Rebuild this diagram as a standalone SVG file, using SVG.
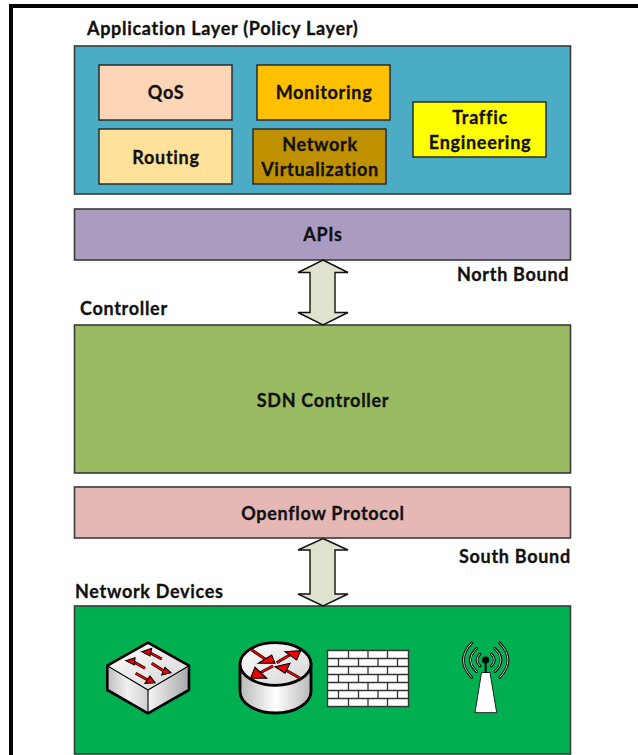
<svg xmlns="http://www.w3.org/2000/svg" width="638" height="755" viewBox="0 0 638 755">
<style>
text{font-family:Lato,Carlito,"Liberation Sans",sans-serif;font-weight:700;font-size:18px;fill:#111;stroke:#111;stroke-width:.3;letter-spacing:.7px}
.m{text-anchor:middle}
.b{stroke:#222;stroke-width:1.4}
.o{stroke:#3a3a3a;stroke-width:1.6}
.dk{stroke:#000;stroke-linejoin:round;fill:none}
.red{fill:#f00000;stroke:#000;stroke-width:1.1;stroke-linejoin:miter}
.sh1{stroke:#000;stroke-width:3;fill:none}
.sh2{stroke:#f00000;stroke-width:1.6;fill:none}
.br{fill:none;stroke:#333;stroke-width:1.3}
.w1{fill:none;stroke:#000;stroke-width:2.6;stroke-linecap:round}
.w2{fill:none;stroke:#ddd;stroke-width:.9;stroke-linecap:round}
</style>
<defs>
<linearGradient id="gt" x1="0" y1="0" x2="1" y2="1"><stop offset="0" stop-color="#fff"/><stop offset="1" stop-color="#d4d4d4"/></linearGradient>
<linearGradient id="gl" x1="0" y1="0" x2="1" y2="0"><stop offset="0" stop-color="#bdbdbd"/><stop offset=".5" stop-color="#f2f2f2"/><stop offset="1" stop-color="#cfcfcf"/></linearGradient>
<linearGradient id="gr" x1="0" y1="0" x2="1" y2="0"><stop offset="0" stop-color="#f5f5f5"/><stop offset="1" stop-color="#a8a8a8"/></linearGradient>
<linearGradient id="gc" x1="0" y1="0" x2="1" y2="0"><stop offset="0" stop-color="#b8b8b8"/><stop offset=".5" stop-color="#fff"/><stop offset="1" stop-color="#b8b8b8"/></linearGradient>
</defs>
<rect width="638" height="755" fill="#fff"/>
<g id="frame"><rect x="9" y="4" width="629" height="4" fill="#000"/><rect x="9" y="4" width="4" height="751" fill="#000"/></g>

<g id="application-layer">
<text x="87" y="35">Application Layer (Policy Layer)</text>
<rect class="o" x="74.500" y="46" width="496" height="148" fill="#4bacc6"/>
</g>
<g id="qos"><rect class="b" x="99" y="65" width="133" height="55" fill="#fbd5b5"/><text class="m" x="166" y="99">QoS</text></g>
<g id="routing"><rect class="b" x="99" y="129" width="133" height="55" fill="#ffe199"/><text class="m" x="166" y="164">Routing</text></g>
<g id="monitoring"><rect class="b" x="257" y="65" width="133" height="55" fill="#ffc000"/><text class="m" x="324" y="99">Monitoring</text></g>
<g id="network-virtualization"><rect class="b" x="253" y="129" width="133" height="55" fill="#bf9000"/><text class="m" x="320" y="151">Network</text><text class="m" x="320" y="176">Virtualization</text></g>
<g id="traffic-engineering"><rect class="b" x="413" y="102" width="133" height="55" fill="#ff0"/><text class="m" x="480" y="124">Traffic</text><text class="m" x="480" y="149">Engineering</text></g>

<g id="apis"><rect class="o" x="74.500" y="209" width="496" height="51" fill="#aa9bc0"/><text class="m" x="323" y="241">APIs</text></g>
<g id="north-bound"><text x="457" y="281">North Bound</text></g>
<g id="controller-label"><text x="80" y="315">Controller</text></g>
<g id="sdn-controller"><rect class="o" x="74.500" y="325" width="496" height="148" fill="#9bbb63"/><text class="m" x="323" y="407">SDN Controller</text></g>
<g id="openflow"><rect class="o" x="74.500" y="487" width="496" height="51" fill="#e6b8b5"/><text class="m" x="323" y="520">Openflow Protocol</text></g>
<g id="south-bound"><text x="459" y="563">South Bound</text></g>
<g id="network-devices">
<text x="75" y="598">Network Devices</text>
<rect class="o" x="74.500" y="606" width="496" height="148" fill="#00b050"/>
</g>

<g id="connectors" fill="#dde3cc" stroke="#111" stroke-width="1.400" stroke-linejoin="miter">
<path d="M323 260L348 272.500H335V312.500H348L323 325L298 312.500H310V272.500H298Z"/>
<path d="M323 538.500L348 550H335V594H348L323 606L298 594H310V550H298Z"/>
</g>

<g id="switch">
<path d="M107.300 665.700L148 690V713.300L107.300 690Z" fill="url(#gl)"/>
<path d="M148 690L189 665.700V690L148 713.300Z" fill="url(#gr)"/>
<path d="M148 642.700L189 665.700L148 690L107.300 665.700Z" fill="url(#gt)"/>
<path class="dk" stroke-width="2.600" d="M148 642.700L189 665.700V690L148 713.300L107.300 690V665.700Z"/>
<path class="dk" stroke-width="1.100" d="M107.300 665.700L148 690L189 665.700M148 690V713.300"/>
<path class="sh1" d="M161.700 659L148 651.700M145 668.300L131.700 660.700M151.700 663.300L165 671.700M135.700 673.300L149 680.700"/>
<path class="sh2" d="M161.700 659L148 651.700M145 668.300L131.700 660.700M151.700 663.300L165 671.700M135.700 673.300L149 680.700"/>
<path class="red" d="M141.700 651.700L151.700 648.300L150 656Z"/>
<path class="red" d="M125.700 660.700L135 657.700L134.300 665Z"/>
<path class="red" d="M171 672.700L165 667.300L161.700 675Z"/>
<path class="red" d="M155 682.700L150 676L145 683.300Z"/>
</g>

<g id="router">
<path d="M240 664V691.500A35.500 21.500 0 0 0 311 691.500V664Z" fill="url(#gc)" stroke="#000" stroke-width="2.800"/>
<ellipse cx="275.500" cy="664" rx="35.500" ry="21.300" fill="url(#gt)" stroke="#000" stroke-width="2.800"/>
<path class="sh1" d="M251.700 650L268 661M276.700 662.700L293 653M300 678.300L281 667.300M273 666L256 675"/>
<path class="sh2" d="M251.700 650L268 661M276.700 662.700L293 653M300 678.300L281 667.300M273 666L256 675"/>
<path class="red" d="M258.300 663.300L275 663.300L271.700 655Z"/>
<path class="red" d="M285 651.700L300.700 650.700L296.700 660Z"/>
<path class="red" d="M275 666.700L290 663.300L285 673.300Z"/>
<path class="red" d="M250.700 678.300L266.700 678.300L255 667.300Z"/>
</g>

<g id="firewall">
<rect x="327.500" y="650.500" width="81" height="56" fill="#fff" stroke="#333" stroke-width="1.400"/>
<path class="br" d="M328 658.500H408M328 666.500H408M328 674.500H408M328 682.500H408M328 690.500H408M328 698.500H408"/>
<path class="br" d="M348.500 650V658M368 650V658M387.500 650V658M338.500 658V666M358.500 658V666M378 658V666M397.500 658V666M348.500 666V674M368 666V674M387.500 666V674M338.500 674V682M358.500 674V682M378 674V682M397.500 674V682M348.500 682V690M368 682V690M387.500 682V690M338.500 690V698M358.500 690V698M378 690V698M397.500 690V698M348.500 698V706M368 698V706M387.500 698V706"/>
</g>

<g id="antenna">
<path d="M481.500 672.500H490L496.700 712.700H475Z" fill="#fff" stroke="#222" stroke-width="1"/>
<path d="M485.700 660V673" stroke="#000" stroke-width="2"/>
<circle cx="485.700" cy="660" r="3.600" fill="#000"/>
<path class="w1" d="M471.700 643Q455 660 471.700 677.500M476.500 648.500Q464 660 476.500 671.700M480 654Q474 660 480 666M499.700 643Q516.400 660 499.700 677.500M494.900 648.500Q507.400 660 494.900 671.700M491.400 654Q497.400 660 491.400 666"/>
<path class="w2" d="M471.700 643Q455 660 471.700 677.500M476.500 648.500Q464 660 476.500 671.700M480 654Q474 660 480 666M499.700 643Q516.400 660 499.700 677.500M494.900 648.500Q507.400 660 494.900 671.700M491.400 654Q497.400 660 491.400 666"/>
</g>
</svg>
